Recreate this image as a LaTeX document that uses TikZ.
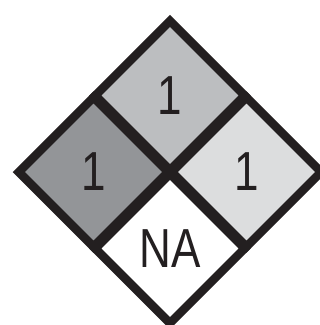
\documentclass[tikz,border=0pt]{standalone}
\usepackage{fontspec}
\usepackage{graphicx}
\usetikzlibrary{shapes.geometric}
\newfontfamily\signfont{Liberation Sans}
\definecolor{cline}{HTML}{231F20}
\definecolor{chealth}{HTML}{939598}
\definecolor{cfire}{HTML}{BCBEC0}
\definecolor{creact}{HTML}{DCDDDE}
\newcommand{\signtext}[1]{\scalebox{0.8}[1]{#1}}

\begin{document}
\begin{tikzpicture}[
  x=1pt, y=1pt,
  cell/.style={diamond, draw=cline, line width=8.5pt, inner sep=0pt,
               minimum width=153pt, minimum height=153pt,
               font=\signfont\fontsize{55}{55}\selectfont, text=cline},
]
\useasboundingbox (0,0) rectangle (320,325);
\clip (0,0) rectangle (320,325);
% four cells of the sign
\node[cell, fill=cfire]  (fire)   at (170,229.5) {\signtext{1}};
\node[cell, fill=chealth](health) at (93.5,153)  {\signtext{1}};
\node[cell, fill=creact] (react)  at (246.5,153) {\signtext{1}};
\node[cell, fill=white]  (spec)   at (170,76.5)  {\signtext{NA}};
\end{tikzpicture}
\end{document}
